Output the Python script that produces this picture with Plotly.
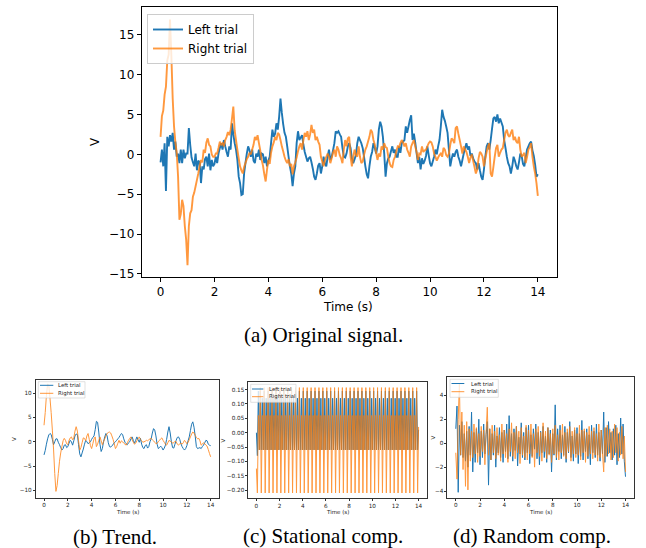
import numpy as np
import plotly.graph_objects as go

# ---------------- data ----------------
# (a) original signal, 0.05 s steps, one line per second
orig_left = [
    -1.0, 0.6, -1.5, 1.4, -4.6, 2.2, 1.0, 2.4, 1.6, 2.7, 0.6, 1.6, -0.3, 0.1, -1.1, 0.6, -1.1, 0.6, -0.5, 0.1,
    0.1, 3.3, 1.2, -0.4, -1.0, -1.5, 0.1, -2.0, -0.8, -1.0, -3.6, -1.5, -1.9, -0.6, -0.3, -1.5, 0.1, -2.0, -0.7, -1.5,
    -1.2, -0.3, -1.1, 0.1, 0.8, 1.4, 0.6, 1.8, 1.0, 0.3, -0.3, 1.0, 0.6, 3.9, 2.5, 1.4, 0.6, -0.7, -2.8, -3.6,
    -5.1, -5.0, -2.4, -1.1, 0.1, 1.0, 0.5, -0.3, 0.6, -0.8, -1.1, 0.1, -0.3, 0.6, -0.7, 0.1, 0.0, -1.1, -0.3, -1.5,
    -0.8, -0.3, 1.4, 3.1, 2.2, 2.6, 3.9, 3.1, 4.7, 7.0, 5.2, 3.8, 2.7, 2.2, 1.0, -0.3, -1.5, -2.4, -4.0, -2.4,
    -1.5, 1.4, 2.9, 1.8, 2.1, 2.4, 1.2, 0.3, -0.3, -0.9, -0.5, -0.3, -1.0, -1.8, -2.8, -3.2, -2.4, -1.4, -1.1, -2.4,
    -1.5, -0.3, -1.2, -1.5, -0.3, 0.6, -0.7, -0.3, 0.5, 1.4, 2.9, 2.7, 2.9, 2.5, 2.2, 0.8, -0.3, -0.4, 0.1, 1.0,
    1.4, 0.8, -0.5, -1.1, -0.6, -0.1, 1.4, 2.2, 1.8, 1.4, 0.8, -0.3, -1.5, -2.5, -3.0, -1.5, -0.3, 0.3, 1.4, 0.8,
    0.1, 1.0, 3.1, 4.1, 3.5, 2.2, 0.1, -2.8, -1.1, -0.5, -0.3, 0.4, 1.0, 0.2, 0.6, -0.3, -0.3, 1.0, 0.2, 1.4,
    1.6, 1.8, 3.5, 2.7, 3.5, 4.3, 4.9, 1.8, 2.6, 1.5, 0.2, -1.1, -0.3, -1.9, -0.5, -1.2, -0.8, -0.2, 1.0, -0.1,
    -1.1, -1.5, -0.9, -0.3, 0.6, 0.0, 1.0, 1.8, 3.5, 5.6, 4.7, 4.2, 3.5, 2.7, 0.6, -1.5, -0.6, 0.1, -0.3, 0.3,
    0.6, -0.3, -0.8, -1.5, -0.7, 0.1, 0.8, 1.4, 0.6, 1.0, -0.2, 0.1, -0.5, -0.9, -1.1, -1.9, -1.1, -2.0, -2.8, -3.2,
    -1.9, -0.3, 1.0, 1.4, 0.6, 1.8, 3.2, 4.5, 4.7, 4.1, 5.0, 3.9, 4.5, 4.0, 3.5, 1.8, 0.8, -0.3, -1.1, -1.5,
    -2.4, -1.5, -0.3, -0.8, -1.5, -1.9, -1.0, 0.1, -0.2, -1.2, -1.5, -0.4, 0.6, 1.0, 1.4, 1.6, 0.5, -0.2, -1.3, -2.8,
    -2.5,
]
orig_right = [
    2.2, 4.8, 5.5, 7.5, 8.5, 11.8, 12.5, 16.9, 12.5, 7.0, 3.5, 1.5, 0.2, -2.8, -8.2, -7.5, -5.7, -6.5, -9.0, -10.7,
    -13.9, -9.0, -7.4, -7.0, -5.3, -4.8, -4.0, -3.2, -2.4, -1.5, -0.7, -1.0, 0.6, 0.2, 1.5, 2.0, 1.2, 1.0, 0.0, -0.3,
    -0.3, 0.1, 0.1, 0.8, 1.6, 1.2, 1.4, 1.0, 1.8, 2.2, 2.8, 2.4, 3.1, 4.5, 6.0, 3.0, 1.8, 0.6, -0.5, -1.5,
    -2.0, -2.4, -1.6, -1.1, -0.6, -0.3, 0.2, 0.0, 0.6, 1.2, 2.2, 1.8, 2.4, 1.4, 0.5, -0.7, -1.4, -2.5, -3.4, -1.9,
    -0.7, -1.2, 0.2, 1.0, 1.5, 2.2, 1.8, 2.7, 2.5, 1.8, 1.0, 0.4, -0.3, -0.8, -1.1, -0.6, -1.5, -1.2, -2.5, -1.5,
    -1.0, -0.4, 0.4, 1.0, 1.4, 0.6, 1.8, 2.7, 2.2, 2.9, 1.8, 2.5, 3.7, 2.7, 3.1, 1.8, 2.2, 1.6, 1.2, -0.3,
    -0.9, -1.5, -0.7, -0.3, 0.1, -0.3, -1.1, -0.5, 0.2, 0.6, -0.3, 1.0, 0.6, -0.1, -0.5, -1.1, 0.6, 1.8, 1.0, 2.0,
    2.2, -0.3, -1.5, -0.3, 0.6, -0.1, -0.3, 1.0, -0.3, -1.1, -0.9, -0.1, 0.6, 1.0, 1.6, 2.2, 3.1, 2.8, 1.8, 1.2,
    0.2, -0.7, 0.1, -0.3, 1.0, 0.6, 1.4, 0.9, 0.8, -0.3, -1.1, -1.5, -1.6, -0.7, -0.3, 0.4, 1.0, 0.9, 1.4, 1.8,
    1.5, 1.0, 1.4, 0.6, 0.2, -0.3, 1.0, 1.4, 1.8, 1.0, 0.3, -0.7, 0.1, 0.0, 1.0, 0.3, 0.5, 0.6, 1.0, 1.4,
    1.6, 1.5, 1.0, 0.1, -0.3, -0.8, -0.4, -0.1, 0.1, -0.3, 0.8, 0.6, -0.1, -0.3, 0.1, 1.2, 2.0, 1.8, 1.4, 3.3,
    3.5, 2.6, 1.8, 1.0, 0.1, 1.0, 0.6, 0.3, -0.3, -1.1, -0.4, 0.0, -0.8, -1.6, -2.4, -1.9, -0.5, 0.3, 0.1, -0.3,
    -1.5, -0.6, 0.3, 1.0, 1.4, -2.4, -2.8, -1.6, -0.3, 0.8, 1.2, -0.3, 0.2, 0.6, 0.8, 1.8, 2.7, 3.1, 2.4, 2.2,
    2.7, 3.1, 1.8, 2.2, 1.6, 1.4, 2.2, 0.6, -0.3, -0.1, 0.2, -1.1, -0.3, 0.6, 0.9, 1.4, -0.3, -1.5, -2.4, -3.6,
    -5.2,
]

# (b) trend, 0.1 s steps
trend_left = [
    -2.7, -1.8, -0.5, 0.6, 1.4, 1.7, 1.5, 0.5, -0.6, 0.0,
    0.6, 0.6, -0.1, -0.6, -1.2, -1.7, -1.4, -0.7, -0.6, -1.2,
    -1.0, -0.3, 0.3, 0.0, -0.7, 0.2, 1.2, 1.6, 1.5, -0.6,
    -2.5, -3.1, -2.3, -1.5, -0.5, 0.3, 0.0, -0.4, -0.2, 0.0,
    0.5, 0.9, 1.2, 2.5, 4.2, 4.0, 2.0, -0.5, -2.0, -1.4,
    0.0, 1.0, 1.7, 1.2, -0.2, -1.0, -1.1, -0.8, -0.6, -0.2,
    0.0, 0.3, 0.6, 0.9, 1.3, 1.7, 1.5, 0.6, -0.1, -0.4,
    -0.6, -0.2, 0.0, 0.6, 1.0, 0.3, -0.3, 0.3, 1.0, 0.4,
    -0.1, 0.7, -0.5, -1.2, -1.4, -0.8, -0.6, -1.3, -1.0, 0.0,
    0.6, 1.8, 2.7, 2.4, 1.2, -0.5, -1.4, -1.2, -0.9, -1.2,
    -1.7, -1.3, -0.7, 0.5, 2.0, 3.1, 1.8, 0.0, -1.2, -1.3,
    -0.5, 0.3, 0.9, 1.0, 0.5, -0.4, -1.0, -1.4, -1.7, -1.4,
    -0.8, 0.2, 1.0, 2.3, 3.6, 4.1, 3.0, 1.2, -1.0, -1.4,
    -1.3, -1.2, -1.4, -1.0, -0.7, -0.2, 0.3, 0.2, -0.5, -0.7,
    -0.8,
]
trend_right = [
    3.4, 6.0, 9.5, 11.9, 11.6, 9.0, 6.0, 2.4, -1.5, -6.5,
    -10.2, -9.0, -6.5, -4.0, -2.3, -1.0, 0.2, 0.7, 0.3, -0.4,
    -0.6, 0.3, 0.8, 1.0, 0.4, 0.8, 2.2, 3.1, 2.2, 0.2,
    -1.7, -1.2, -0.2, 0.8, 0.7, 0.2, 1.2, 1.7, 0.5, -0.8,
    -1.4, -0.4, 0.6, 1.0, -1.0, -0.5, 0.3, 1.0, 0.2, -0.6,
    0.0, 0.6, 1.2, 1.7, 1.9, 2.0, 1.8, 1.2, 0.5, -0.4,
    -1.4, -1.0, -0.3, 0.3, -0.3, 0.2, 0.0, -0.3, -0.5, -0.7,
    -0.2, 0.3, 0.7, 1.0, 0.4, -0.1, -0.5, -0.3, 0.2, 0.6,
    1.0, 0.5, 0.2, -0.1, 0.0, 0.1, 0.3, 0.2, 0.4, 0.6,
    0.7, 0.4, 0.2, -0.1, -0.4, -0.3, 0.0, 0.3, 0.6, 0.8,
    0.3, -0.1, -0.5, -0.7, -0.2, 0.3, 0.1, 0.0, -0.3, -0.2,
    0.1, 0.0, -0.5, -0.7, -0.4, -0.3, -0.5, -0.2, 0.3, 0.0,
    -0.4, -0.1, 0.4, 1.0, 1.6, 2.0, 1.8, 1.3, 0.9, 0.6,
    0.7, 0.2, -0.7, -0.5, -0.2, -0.4, -0.7, -0.9, -1.6, -2.4,
    -3.1,
]

# (c) stational component: about 40 cycles of ~0.35 s, 4 readings per cycle
stat_left = [
    0.0, -0.08, 0.145, -0.06,
    0.145, -0.06, 0.12, -0.06, 0.145, -0.06, 0.12, -0.06, 0.145, -0.06, 0.12, -0.06,
    0.145, -0.06, 0.12, -0.06, 0.145, -0.06, 0.12, -0.06, 0.145, -0.06, 0.12, -0.06,
    0.145, -0.06, 0.12, -0.06, 0.145, -0.06, 0.12, -0.06, 0.145, -0.06, 0.12, -0.06,
    0.145, -0.06, 0.12, -0.06, 0.145, -0.06, 0.12, -0.06, 0.145, -0.06, 0.12, -0.06,
    0.145, -0.06, 0.12, -0.06, 0.145, -0.06, 0.12, -0.06, 0.145, -0.06, 0.12, -0.06,
    0.145, -0.06, 0.12, -0.06, 0.145, -0.06, 0.12, -0.06, 0.145, -0.06, 0.12, -0.06,
    0.145, -0.06, 0.12, -0.06, 0.145, -0.06, 0.12, -0.06, 0.145, -0.06, 0.12, -0.06,
    0.145, -0.06, 0.12, -0.06, 0.145, -0.06, 0.12, -0.06, 0.145, -0.06, 0.12, -0.06,
    0.145, -0.06, 0.12, -0.06, 0.145, -0.06, 0.12, -0.06, 0.145, -0.06, 0.12, -0.06,
    0.145, -0.06, 0.12, -0.06, 0.145, -0.06, 0.12, -0.06, 0.145, -0.06, 0.12, -0.06,
    0.145, -0.06, 0.12, -0.06, 0.145, -0.06, 0.12, -0.06, 0.145, -0.06, 0.12, -0.06,
    0.145, -0.06, 0.12, -0.06, 0.145, -0.06, 0.12, -0.06, 0.145, -0.06, 0.12, -0.06,
    0.145, -0.06, 0.12, -0.06, 0.145, -0.06, 0.12, -0.06, 0.145, -0.06, 0.12, -0.06,
    0.145, -0.06, 0.12, -0.06,
    0.145, -0.06, 0.01,
]
stat_right = [
    -0.125, -0.21, 0.06, -0.06,
    0.157, -0.21, 0.06, -0.06, 0.157, -0.21, 0.06, -0.06, 0.157, -0.21, 0.06, -0.06,
    0.157, -0.21, 0.06, -0.06, 0.157, -0.21, 0.06, -0.06, 0.157, -0.21, 0.06, -0.06,
    0.157, -0.21, 0.06, -0.06, 0.157, -0.21, 0.06, -0.06, 0.157, -0.21, 0.06, -0.06,
    0.157, -0.21, 0.06, -0.06, 0.157, -0.21, 0.06, -0.06, 0.157, -0.21, 0.06, -0.06,
    0.157, -0.21, 0.06, -0.06, 0.157, -0.21, 0.06, -0.06, 0.157, -0.21, 0.06, -0.06,
    0.157, -0.21, 0.06, -0.06, 0.157, -0.21, 0.06, -0.06, 0.157, -0.21, 0.06, -0.06,
    0.157, -0.21, 0.06, -0.06, 0.157, -0.21, 0.06, -0.06, 0.157, -0.21, 0.06, -0.06,
    0.157, -0.21, 0.06, -0.06, 0.157, -0.21, 0.06, -0.06, 0.157, -0.21, 0.06, -0.06,
    0.157, -0.21, 0.06, -0.06, 0.157, -0.21, 0.06, -0.06, 0.157, -0.21, 0.06, -0.06,
    0.157, -0.21, 0.06, -0.06, 0.157, -0.21, 0.06, -0.06, 0.157, -0.21, 0.06, -0.06,
    0.157, -0.21, 0.06, -0.06, 0.157, -0.21, 0.06, -0.06, 0.157, -0.21, 0.06, -0.06,
    0.157, -0.21, 0.06, -0.06, 0.157, -0.21, 0.06, -0.06, 0.157, -0.21, 0.06, -0.06,
    0.157, -0.21, 0.06, -0.06, 0.157, -0.21, 0.06, -0.06, 0.157, -0.21, 0.06, -0.06,
    0.157, -0.21, 0.06, -0.06,
    0.157, -0.21, 0.02,
]

# (d) random component, 0.1 s steps
rand_left = [
    1.2, 3.1, -4.1, 1.5, -1.0, 1.8, -1.2, 0.8, -1.5, 1.0,
    -2.0, 1.4, -1.0, 2.6, -2.4, 0.9, -1.6, 1.2, -0.8, 2.0,
    -1.8, 1.0, -1.2, 1.6, -0.9, 0.7, 1.8, -3.5, 1.2, -1.4,
    0.8, -1.0, 1.5, -2.0, 0.6, -0.8, 1.3, -1.2, 0.9, -1.6,
    1.1, -0.7, 1.6, -1.3, 2.3, -1.1, 0.8, -1.5, 1.2, -0.6,
    1.4, -1.9, 0.5, -0.9, 1.7, -1.2, 0.9, -1.4, 1.3, -0.8,
    1.5, -1.7, 0.7, -1.1, 1.2, -0.5, 1.6, -1.3, 0.9, -1.8,
    1.0, -0.8, 1.4, -1.2, 0.6, -1.6, 1.3, -0.9, 1.1, -2.4,
    0.8, -1.0, 3.2, -1.4, 1.2, -0.7, 1.5, -1.3, 0.7, -1.0,
    1.4, -1.6, 0.9, -0.8, 1.8, -1.2, 0.6, -1.5, 1.1, -0.9,
    1.3, -1.7, 0.8, -1.1, 1.9, -1.4, 1.0, -0.7, 1.2, -1.3,
    0.7, -1.8, 1.5, -0.8, 1.0, -1.2, 1.6, -1.0, 0.9, -1.5,
    1.1, -0.9, 2.6, -1.6, 1.3, -1.1, 1.8, -0.8, 0.9, -1.4,
    1.2, -1.0, 1.5, -1.8, 0.8, -1.2, 2.1, -0.9, 1.6, -1.5,
    -2.8,
]
rand_right = [
    -0.8, -3.0, 2.0, 5.0, -1.0, 2.6, -2.2, 1.5, -3.6, 1.8,
    -3.9, 1.2, -1.5, 1.0, -1.2, 1.6, -0.9, 1.3, -1.6, 0.8,
    -1.1, 1.4, -0.7, 1.1, -1.8, 0.9, 3.0, -1.0, 1.2, -1.4,
    1.5, -0.8, 1.0, -1.3, 1.3, -1.0, 0.7, -1.5, 1.6, -0.9,
    1.1, -1.2, 0.8, -1.6, 1.2, -0.7, 1.7, -1.1, 0.9, -1.3,
    1.4, -0.8, 1.0, -1.7, 1.3, -1.0, 0.6, -1.2, 1.5, -1.4,
    1.1, -0.9, 1.6, -1.2, 0.8, -2.0, 1.2, -0.8, 1.4, -1.1,
    0.9, -1.5, 1.7, -0.7, 1.0, -1.3, 1.3, -1.0, 0.8, -1.6,
    1.2, -0.9, 1.5, -1.2, 0.7, -1.4, 1.1, -0.8, 1.6, -1.1,
    0.9, -1.3, 1.2, -0.7, 1.4, -1.5, 1.0, -0.9, 1.3, -1.2,
    0.8, -1.0, 1.5, -1.4, 1.1, -0.8, 1.2, -1.6, 0.9, -1.1,
    1.4, -0.9, 1.0, -1.3, 1.3, -1.0, 0.8, -1.5, 1.6, -1.2,
    1.1, -0.8, -2.4, 1.3, -1.1, 1.5, -0.9, 1.2, -1.4, 1.0,
    -1.2, 1.6, -0.8, 1.3, -1.5, 0.9, -1.0, 1.4, -1.3, 0.6,
    -2.4,
]

x_ticks = [0, 2, 4, 6, 8, 10, 12, 14]
y_ticks_a = [-15, -10, -5, 0, 5, 10, 15]
y_ticks_b = [-10, -5, 0, 5, 10]
y_ticks_c = [-0.20, -0.15, -0.10, -0.05, 0.00, 0.05, 0.10, 0.15]
y_ticks_d = [-4, -2, 0, 2, 4]
series_names = ["Left trial", "Right trial"]
captions = ["(a) Original signal.", "(b) Trend.", "(c) Stational comp.", "(d) Random comp."]

# ---------------- styling ----------------
W, H = 646, 548
BLUE = "#1f77b4"
ORANGE = "#ff7f0e"
SANS = "DejaVu Sans"
SERIF = "Liberation Serif"


def px(x):
    return x / W


def py(y):
    return 1 - y / H


def tgrid(vals):
    return np.linspace(0, 14, len(vals))


fig = go.Figure()

panels = [
    (orig_left, orig_right, "x", "y", 1.9, True),
    (trend_left, trend_right, "x2", "y2", 1.0, False),
    (stat_left, stat_right, "x3", "y3", 1.0, False),
    (rand_left, rand_right, "x4", "y4", 1.0, False),
]
for left, right, xa, ya, lw, show in panels:
    fig.add_trace(go.Scatter(x=tgrid(left), y=left, mode="lines", name=series_names[0],
                             line=dict(color=BLUE, width=lw, simplify=False), xaxis=xa, yaxis=ya,
                             showlegend=show, hoverinfo="skip"))
    fig.add_trace(go.Scatter(x=tgrid(right), y=right, mode="lines", name=series_names[1],
                             line=dict(color=ORANGE, width=lw, simplify=False), opacity=0.8,
                             xaxis=xa, yaxis=ya, showlegend=show, hoverinfo="skip"))


def axis(domain, rng, ticks, big, fmt=None, anchor=None):
    d = dict(domain=domain, range=rng, tickvals=ticks, showgrid=False, zeroline=False,
             showline=True, mirror=True, ticks="outside", automargin=False, fixedrange=True,
             linecolor="black" if big else "#333333", linewidth=1.0 if big else 0.7,
             tickcolor="black" if big else "#333333", tickwidth=1.0 if big else 0.6,
             ticklen=4 if big else 2,
             tickfont=dict(family=SANS, size=12 if big else 5.7, color="black" if big else "#222222"))
    if fmt:
        d["tickformat"] = fmt
    if anchor:
        d["anchor"] = anchor
    return d


layout = dict(
    width=W, height=H, margin=dict(l=0, r=0, t=0, b=0),
    paper_bgcolor="white", plot_bgcolor="white", hovermode=False,
    xaxis=axis([px(141.7), px(556.7)], [-0.7, 14.7], x_ticks, True, anchor="y"),
    yaxis=axis([py(276.7), py(7.3)], [-15.35, 18.45], y_ticks_a, True, anchor="x"),
    xaxis2=axis([px(35.7), px(219)], [-0.7, 14.7], x_ticks, False, anchor="y2"),
    yaxis2=axis([py(497.7), py(380)], [-11.5, 12.7], y_ticks_b, False, anchor="x2"),
    xaxis3=axis([px(248.3), px(426.7)], [-0.7, 14.7], x_ticks, False, anchor="y3"),
    yaxis3=axis([py(498.3), py(382.3)], [-0.2285, 0.1755], y_ticks_c, False, fmt=".2f", anchor="x3"),
    xaxis4=axis([px(447.3), px(634)], [-0.7, 14.7], x_ticks, False, anchor="y4"),
    yaxis4=axis([py(497.7), py(377.3)], [-4.55, 5.5], y_ticks_d, False, anchor="x4"),
    legend=dict(x=px(147), y=py(14), xanchor="left", yanchor="top",
                bgcolor="rgba(255,255,255,0.8)", bordercolor="#cccccc", borderwidth=1,
                font=dict(family=SANS, size=12, color="black"), itemwidth=30, tracegroupgap=0),
)
fig.update_layout(**layout)

annotations = []
shapes = []


def text(x, y, s, size, family=SANS, angle=0, xanchor="center", color="black"):
    annotations.append(dict(x=px(x), y=py(y), xref="paper", yref="paper", text=s, showarrow=False,
                            xanchor=xanchor, yanchor="middle", textangle=angle,
                            font=dict(family=family, size=size, color=color)))


# axis titles
text(348, 307, "Time (s)", 12)
text(95, 142, "V", 12, angle=-90)
for cx, vx, cy in [(127.4, 13.3, 438.8), (337.5, 223.3, 440.3), (540.6, 432.0, 437.5)]:
    text(cx, 511.7, "Time (s)", 5.5, color="#222222")
    text(vx, cy, "V", 5.5, angle=-90, color="#222222")

# captions
text(323, 335, captions[0], 21, family=SERIF)
text(114.7, 536.5, captions[1], 21, family=SERIF)
text(323.2, 535.7, captions[2], 21, family=SERIF)
text(532, 535.7, captions[3], 21, family=SERIF)

# small-panel legends (box, line samples, labels)
for bx0, bx1, by0, by1, lx0, lx1, ly1, ly2, tx in [
    (38.3, 85.0, 381.7, 398.0, 40.0, 53.3, 385.3, 393.3, 56.0),
    (250.7, 296.0, 384.3, 402.3, 252.0, 263.3, 389.0, 396.7, 267.0),
    (450.0, 498.3, 379.3, 397.3, 451.5, 464.3, 383.5, 391.7, 468.5),
]:
    shapes.append(dict(type="rect", xref="paper", yref="paper", x0=px(bx0), x1=px(bx1),
                       y0=py(by1), y1=py(by0), line=dict(color="#cccccc", width=0.6),
                       fillcolor="rgba(255,255,255,0.8)", layer="above"))
    shapes.append(dict(type="line", xref="paper", yref="paper", x0=px(lx0), x1=px(lx1),
                       y0=py(ly1), y1=py(ly1), line=dict(color=BLUE, width=1.0), layer="above"))
    shapes.append(dict(type="line", xref="paper", yref="paper", x0=px(lx0), x1=px(lx1),
                       y0=py(ly2), y1=py(ly2), line=dict(color=ORANGE, width=1.0), opacity=0.8,
                       layer="above"))
    text(tx, ly1, series_names[0], 5.4, xanchor="left", color="#222222")
    text(tx, ly2, series_names[1], 5.4, xanchor="left", color="#222222")

fig.update_layout(annotations=annotations, shapes=shapes)
fig.write_html("out.html", config={"displayModeBar": False},
               post_script="document.body.style.margin='0px';document.body.style.overflow='hidden';")
